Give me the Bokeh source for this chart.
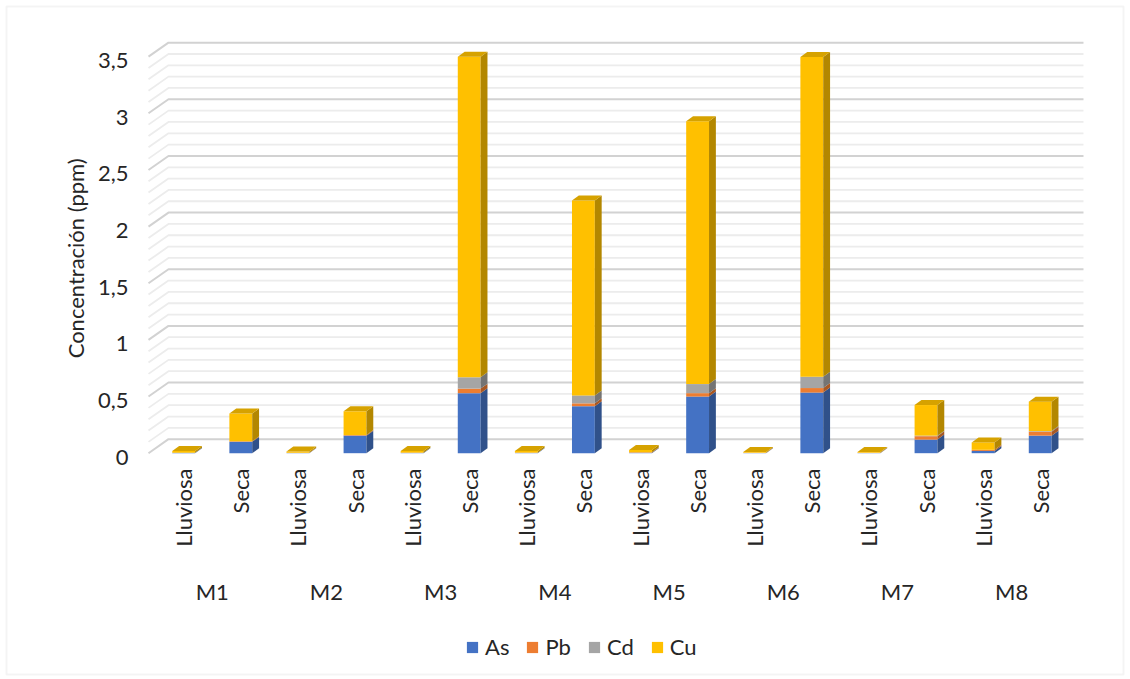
import numpy as np
from bokeh.plotting import figure
from bokeh.models import (ColumnDataSource, Range1d, Legend, LegendItem, BoxAnnotation)
from bokeh.core.properties import value
from bokeh.embed import file_html
from bokeh.resources import INLINE

# Sampling points and seasons
sites = ["M1", "M2", "M3", "M4", "M5", "M6", "M7", "M8"]
seasons = ["Lluviosa", "Seca"]

# Concentrations (ppm); order: M1 Lluviosa, M1 Seca, M2 Lluviosa, M2 Seca, ...
as_vals = [0.003, 0.100, 0.002, 0.155, 0.003, 0.530, 0.003, 0.415,
           0.004, 0.500, 0.002, 0.535, 0.002, 0.120, 0.020, 0.155]
pb_vals = [0.002, 0.005, 0.002, 0.005, 0.002, 0.040, 0.002, 0.025,
           0.004, 0.030, 0.002, 0.040, 0.002, 0.030, 0.010, 0.035]
cd_vals = [0.000, 0.000, 0.000, 0.000, 0.000, 0.100, 0.000, 0.070,
           0.000, 0.080, 0.000, 0.100, 0.000, 0.005, 0.000, 0.005]
cu_vals = [0.015, 0.245, 0.011, 0.210, 0.015, 2.830, 0.015, 1.720,
           0.020, 2.320, 0.006, 2.823, 0.006, 0.270, 0.065, 0.260]

metals = ["As", "Pb", "Cd", "Cu"]
y_ticks = [0, 0.5, 1, 1.5, 2, 2.5, 3, 3.5]
y_title = "Concentración (ppm)"

FONT = value("Lato")
TXT = "#262626"
FS = value("22px")

front_col = {"As": "#4472C4", "Pb": "#ED7D31", "Cd": "#A5A5A5", "Cu": "#FFC000"}
side_col = {"As": "#30518A", "Pb": "#A85823", "Cd": "#747474", "Cu": "#B38700"}
top_col = "#D6A200"

# 3-D geometry (data units: x in category steps, y in ppm)
bar_w = 0.40             # front face width
bdx, bdy = 0.12, 0.044   # bar depth offset
gdx, gdy = 0.35, 0.1236  # wall depth offset
x_front_left, x_right = -0.6165, 15.758

# label placement (data units)
ytick_x = -0.967
ytitle_x, ytitle_y = -1.895, 1.72
cat_y = -0.135
site_y = -1.218

n = len(as_vals)
xs = np.arange(n, dtype=float)
stack = np.array([as_vals, pb_vals, cd_vals, cu_vals])
tops = np.cumsum(stack, axis=0)
bottoms = tops - stack

p = figure(width=1130, height=679, output_backend="svg", toolbar_location=None,
           x_range=Range1d(-3.2084, 16.5814), y_range=Range1d(-1.9974, 3.9956),
           x_axis_location=None, y_axis_location=None,
           min_border=0, min_border_left=0, min_border_right=0,
           min_border_top=0, min_border_bottom=0)
p.outline_line_color = None
p.background_fill_color = "white"
p.border_fill_color = "white"
p.grid.visible = False

# chart-area border
p.add_layout(BoxAnnotation(left=6, right=1123, top=5, bottom=673,
                           left_units="screen", right_units="screen",
                           top_units="screen", bottom_units="screen",
                           fill_alpha=0, line_color="#d9d9d9", line_width=2))

# back wall gridlines with the oblique edge on the left
levels = np.round(np.arange(0, 3.5001, 0.1), 2)
major = [v for v in levels if abs(v * 2 - round(v * 2)) < 1e-6]
minor = [v for v in levels if v not in major]
for vals, col, lw in ((minor, "#ececec", 1.8), (major, "#d2d2d2", 2.0)):
    p.multi_line(xs=[[x_front_left, x_front_left + gdx, x_right] for _ in vals],
                 ys=[[v, v + gdy, v + gdy] for v in vals],
                 line_color=col, line_width=lw)

# stacked 3-D columns
front_r = {}
for k, m in enumerate(metals):
    keep = stack[k] > 0
    left = xs[keep] - bar_w / 2
    right = xs[keep] + bar_w / 2
    b = bottoms[k][keep]
    t = tops[k][keep]
    src = ColumnDataSource(dict(left=left, right=right, bottom=b, top=t))
    front_r[m] = p.quad(left="left", right="right", bottom="bottom", top="top",
                        source=src, fill_color=front_col[m], line_color=None)
    p.patches(xs=[[r, r + bdx, r + bdx, r] for r in right],
              ys=[[bb, bb + bdy, tt + bdy, tt] for bb, tt in zip(b, t)],
              fill_color=side_col[m], line_color=None)

total = tops[-1]
p.patches(xs=[[x - bar_w / 2, x - bar_w / 2 + bdx, x + bar_w / 2 + bdx, x + bar_w / 2] for x in xs],
          ys=[[t, t + bdy, t + bdy, t] for t in total],
          fill_color=top_col, line_color=None)

# value axis labels
ytick_txt = [str(v).replace(".", ",") for v in y_ticks]
p.text(x=[ytick_x] * len(y_ticks), y=[v - 0.035 for v in y_ticks], text=ytick_txt,
       text_align="right", text_baseline="middle",
       text_font=FONT, text_font_size=FS, text_color=TXT)
p.text(x=[ytitle_x], y=[ytitle_y], text=[y_title], angle=np.pi / 2,
       text_align="center", text_baseline="middle",
       text_font=FONT, text_font_size=FS, text_color=TXT)

# category labels: season under each column, site under each pair
season_labels = [s for _ in sites for s in seasons]
p.text(x=xs, y=[cat_y] * n, text=season_labels, angle=np.pi / 2,
       text_align="right", text_baseline="middle",
       text_font=FONT, text_font_size=FS, text_color=TXT)
p.text(x=[2 * i + 0.5 for i in range(len(sites))], y=[site_y] * len(sites), text=sites,
       text_align="center", text_baseline="middle",
       text_font=FONT, text_font_size=FS, text_color=TXT)

legend = Legend(items=[LegendItem(label=m, renderers=[front_r[m]]) for m in metals],
                orientation="horizontal", location=(465, 19),
                glyph_width=14, glyph_height=14, label_standoff=6, spacing=16,
                label_text_font="Lato", label_text_font_size="22px", label_text_color=TXT,
                border_line_color=None, background_fill_alpha=0, padding=0, margin=0)
p.add_layout(legend, "center")

open("out.html", "w").write(file_html(p, INLINE))
